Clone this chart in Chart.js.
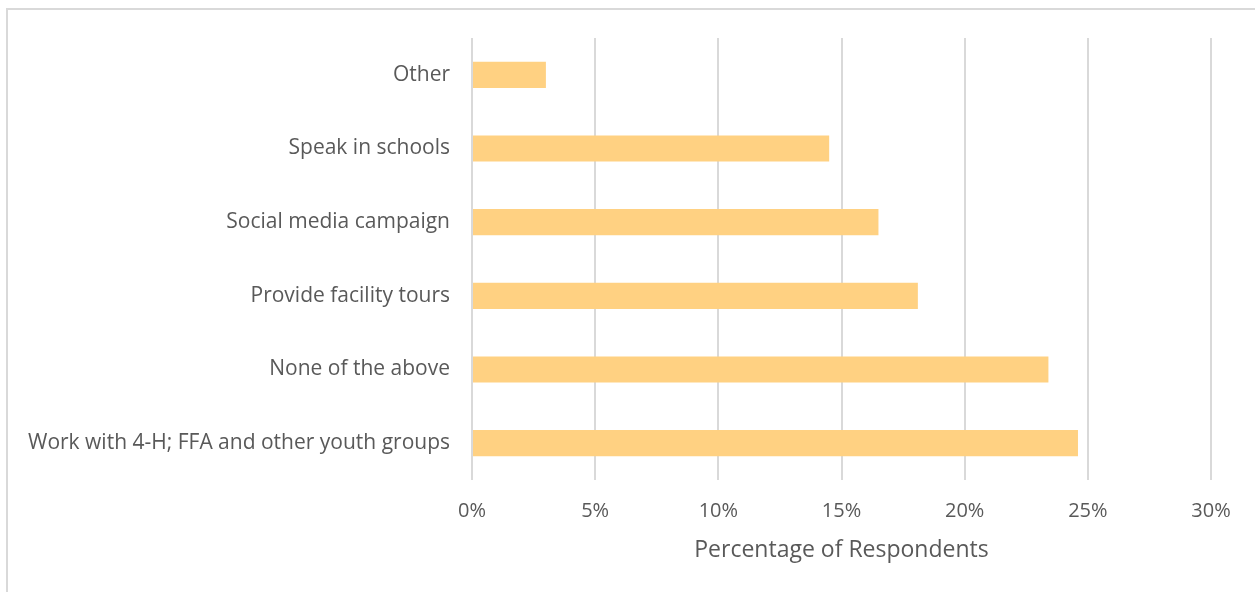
<!DOCTYPE html>
<html>
<head>
<meta charset="utf-8">
<script src="https://cdn.jsdelivr.net/npm/chart.js@4"></script>
<style>
html,body{margin:0;padding:0;background:#fff;}
#wrap{position:relative;width:1255px;height:592px;}
</style>
</head>
<body>
<div id="wrap"><canvas id="c" width="1255" height="592"></canvas></div>
<script>
const categories = ["Other", "Speak in schools", "Social media campaign", "Provide facility tours", "None of the above", "Work with 4-H; FFA and other youth groups"];
const values = [3.0, 14.5, 16.5, 18.1, 23.4, 24.6];
const xTicks = [0, 5, 10, 15, 20, 25, 30];

const borderPlugin = {
  id: 'frame',
  beforeDraw(chart) {
    const ctx = chart.ctx;
    ctx.save();
    ctx.fillStyle = '#ffffff';
    ctx.fillRect(0, 0, chart.width, chart.height);
    ctx.strokeStyle = '#d9d9d9';
    ctx.lineWidth = 2;
    ctx.beginPath();
    ctx.moveTo(7, chart.height);
    ctx.lineTo(7, 9);
    ctx.lineTo(chart.width, 9);
    ctx.stroke();
    ctx.restore();
  }
};

new Chart(document.getElementById('c'), {
  type: 'bar',
  data: {
    labels: categories,
    datasets: [{
      data: values,
      backgroundColor: '#FFD182',
      categoryPercentage: 1.0,
      barPercentage: 0.355
    }]
  },
  plugins: [borderPlugin],
  options: {
    indexAxis: 'y',
    responsive: false,
    animation: false,
    layout: { padding: { left: 0, right: 44, top: 38, bottom: 0 } },
    plugins: { legend: { display: false }, tooltip: { enabled: false } },
    scales: {
      x: {
        min: 0, max: 30,
        afterBuildTicks(scale) { scale.ticks = xTicks.map(v => ({ value: v })); },
        afterFit(scale) { scale.height = 112; },
        ticks: {
          callback: v => v + '%',
          color: '#595959',
          font: { family: 'Open Sans', size: 20 },
          padding: 19,
          maxRotation: 0
        },
        grid: { color: '#d9d9d9', lineWidth: 2, drawTicks: false },
        border: { display: false },
        title: {
          display: true,
          text: 'Percentage of Respondents',
          color: '#595959',
          font: { family: 'Open Sans', size: 23 },
          padding: { top: 0, bottom: 28 }
        }
      },
      y: {
        afterFit(scale) { scale.width = 472; },
        ticks: {
          color: '#595959',
          font: { family: 'Open Sans', size: 21 },
          padding: 22
        },
        grid: { display: false, drawTicks: false },
        border: { display: false }
      }
    }
  }
});
</script>
</body>
</html>
